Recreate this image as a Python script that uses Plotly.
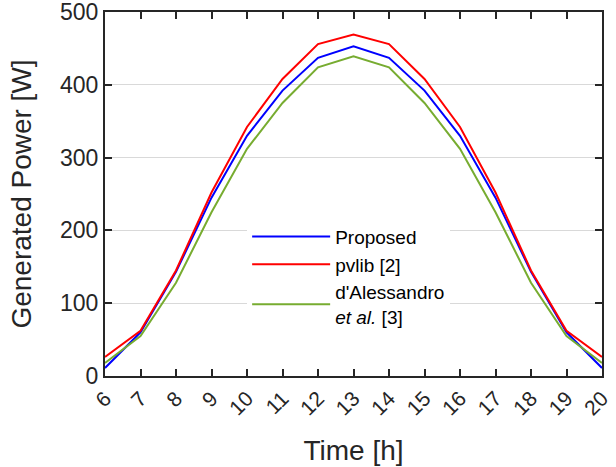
import plotly.graph_objects as go

hours = list(range(6, 21))
proposed = [11, 60, 143, 245, 330, 392, 437, 453, 437, 392, 330, 245, 143, 60, 11]
pvlib = [26, 62, 145, 252, 342, 408, 456, 469, 456, 408, 342, 252, 145, 62, 26]
dalessandro = [18, 55, 128, 225, 312, 375, 424, 439, 424, 375, 312, 225, 128, 55, 18]

names = ["Proposed", "pvlib [2]", "d'Alessandro<br><i>et al.</i> [3]"]
colors = ["#0000ff", "#ff0000", "#77ac30"]

fig = go.Figure()
for name, ys, c in zip(names, [proposed, pvlib, dalessandro], colors):
    fig.add_trace(go.Scatter(x=hours, y=ys, mode="lines", name=name,
                             line=dict(color=c, width=2)))

axis_common = dict(showline=True, linecolor="#262626", linewidth=2, mirror="ticks",
                   ticks="inside", ticklen=7, tickwidth=2, tickcolor="#262626",
                   zeroline=False, automargin=False, ticklabeloverflow="allow")

fig.update_layout(
    width=616, height=467,
    margin=dict(l=105, r=14, t=12, b=91),
    paper_bgcolor="white", plot_bgcolor="white",
    font=dict(family="Liberation Sans, Arial, sans-serif", color="#262626"),
    xaxis=dict(range=[6, 20], tickmode="array", tickvals=hours,
               ticktext=[str(h) for h in hours], tickangle=-45,
               tickfont=dict(size=21), showgrid=False,
               title=dict(text="Time [h]", font=dict(size=28), standoff=22),
               **axis_common),
    yaxis=dict(range=[0, 500], tickvals=[0, 100, 200, 300, 400, 500],
               tickfont=dict(size=23), showgrid=True, gridcolor="#d9d9d9", gridwidth=1,
               title=dict(text="Generated Power [W]", font=dict(size=28), standoff=20),
               **axis_common),
    legend=dict(x=0.286, y=0.435, xanchor="left", yanchor="top",
                bgcolor="white", borderwidth=0, font=dict(size=19, color="#000000"),
                tracegroupgap=0, itemwidth=78),
    showlegend=True,
)

fig.write_html("out.html")
